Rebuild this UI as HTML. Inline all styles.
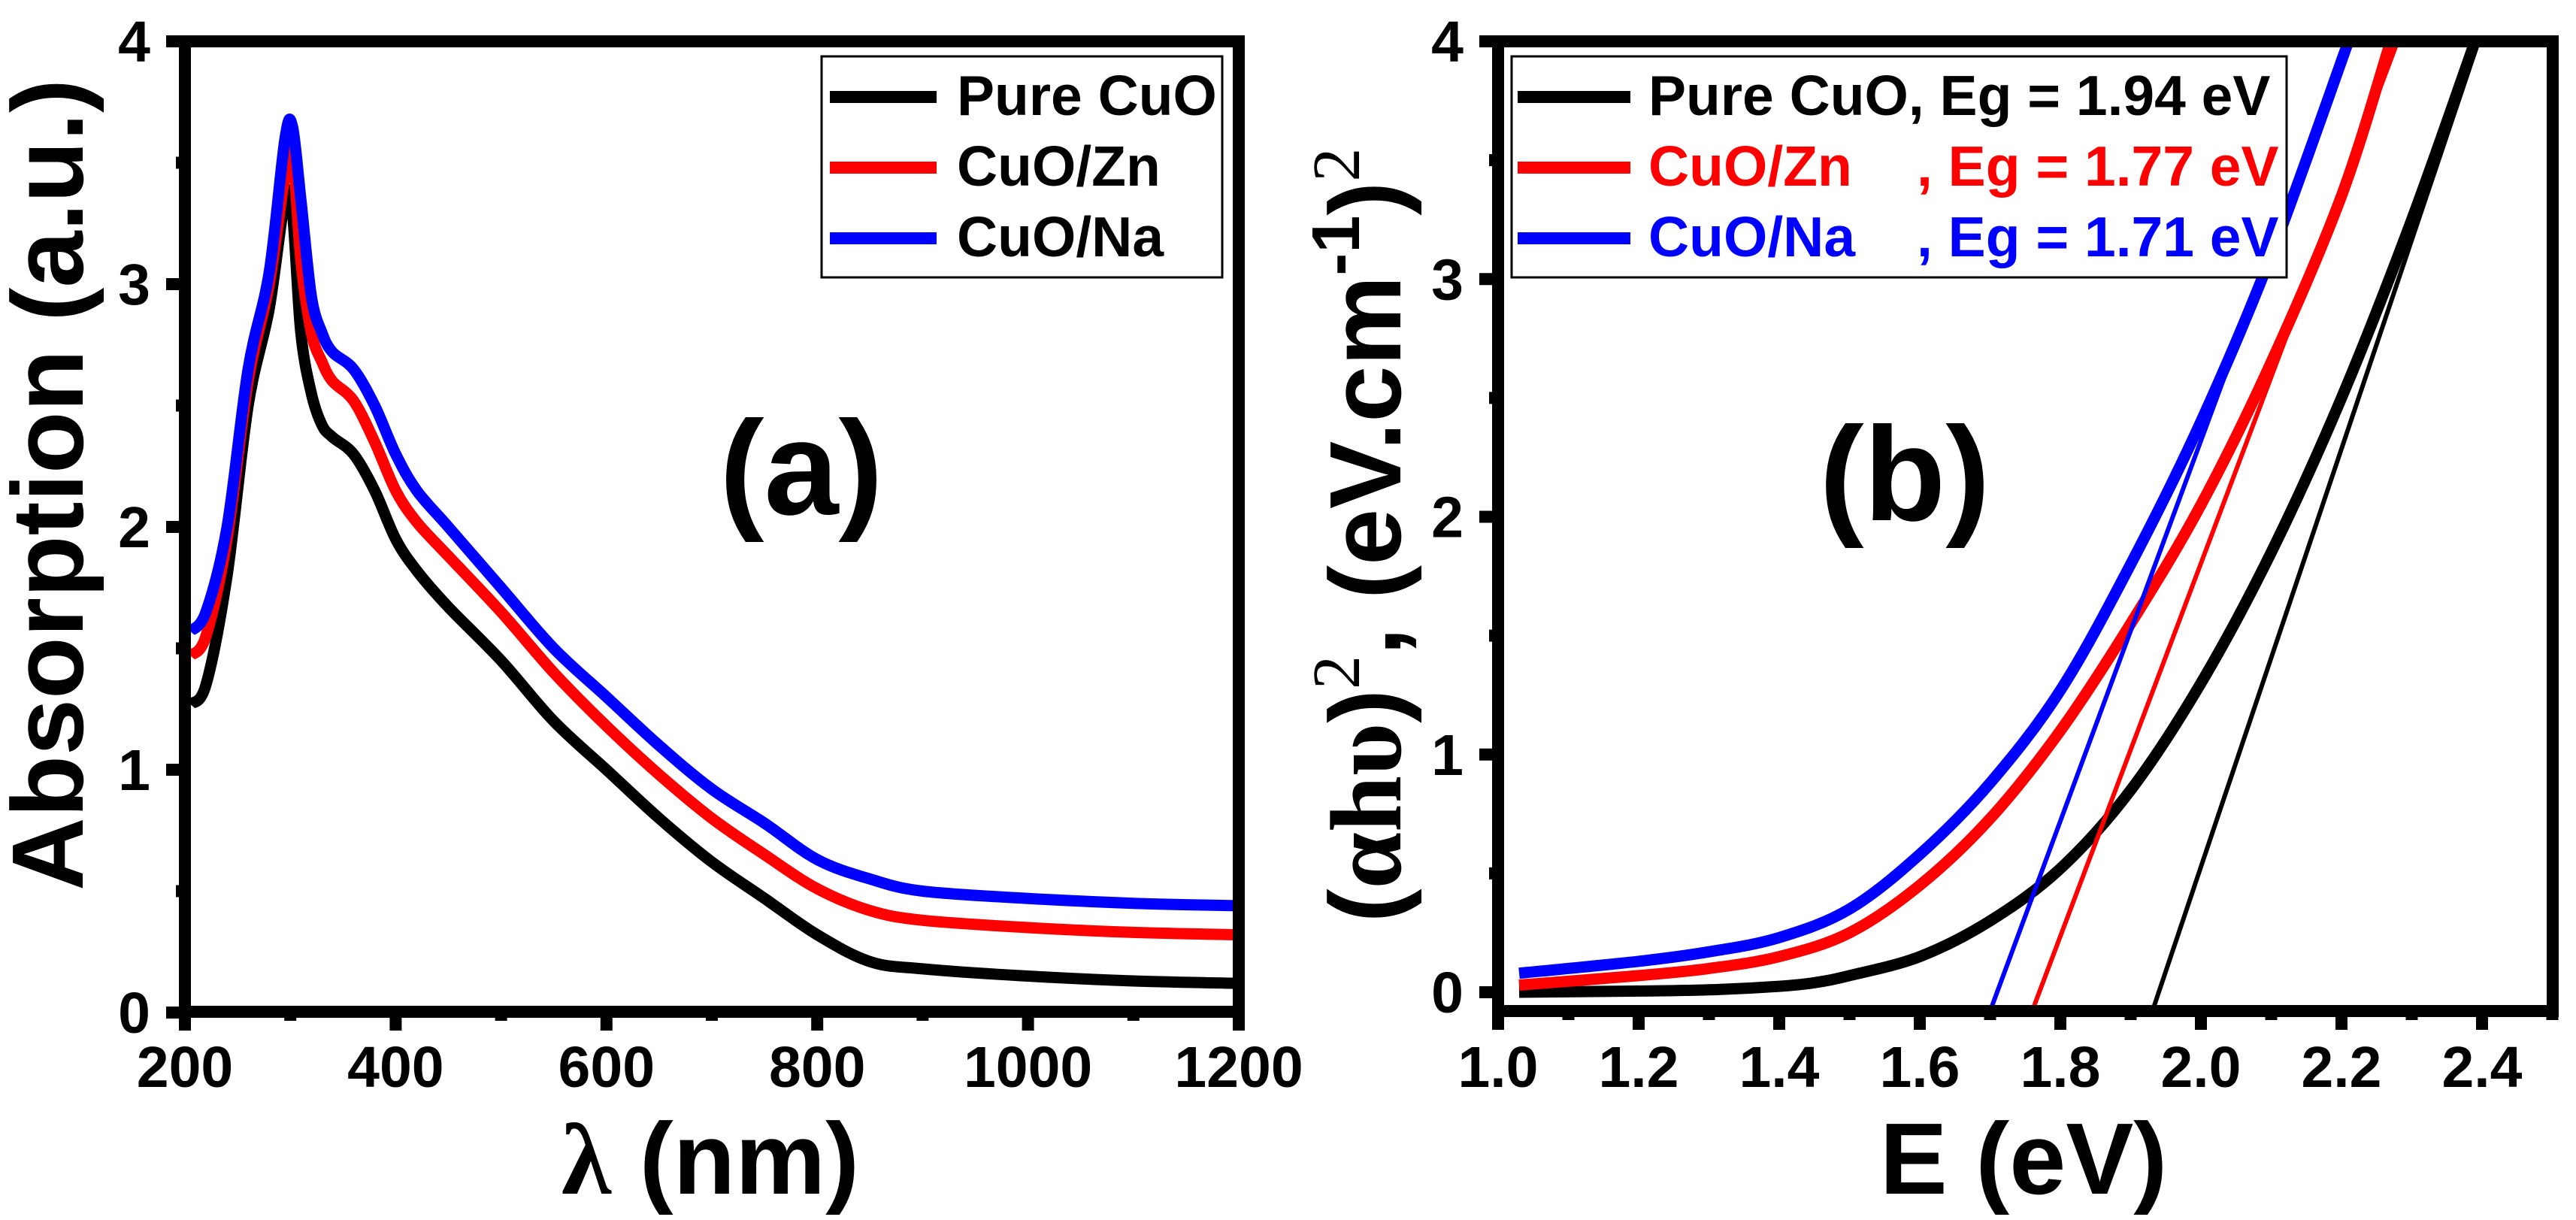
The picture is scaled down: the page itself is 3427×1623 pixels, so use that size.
<!DOCTYPE html>
<html><head><meta charset="utf-8">
<style>
html,body{margin:0;padding:0;background:#fff;}
svg{display:block;}
text{font-family:"Liberation Sans",Arial,sans-serif;font-weight:bold;}
</style></head>
<body>
<svg id="fig" width="3427" height="1623" viewBox="0 0 3427 1623" xmlns="http://www.w3.org/2000/svg">
  <g id="pa"></g>
  <g id="pb"></g>
</svg>
<script>
// ---------- Panel (a) data ----------
const aWave = [205,220,240,260,280,295,302,310,320,330,340,360,380,400,420,450,500,550,600,650,700,750,800,850,900,1000,1100,1200];
const aPure = [1.27,1.35,1.8,2.5,2.9,3.35,3.3,2.8,2.55,2.42,2.37,2.3,2.15,1.95,1.82,1.67,1.45,1.2,1.0,0.8,0.62,0.47,0.32,0.21,0.18,0.15,0.13,0.12];
const aZn   = [1.47,1.55,1.95,2.6,3.0,3.45,3.55,3.1,2.8,2.68,2.6,2.52,2.35,2.15,2.02,1.88,1.65,1.4,1.18,0.98,0.8,0.65,0.51,0.42,0.38,0.35,0.33,0.32];
const aNa   = [1.57,1.65,2.0,2.65,3.05,3.6,3.65,3.35,2.95,2.8,2.72,2.65,2.5,2.3,2.15,2.0,1.75,1.5,1.3,1.1,0.92,0.78,0.63,0.55,0.5,0.47,0.45,0.44];
const aXTicks = [200,400,600,800,1000,1200];
const aYTicks = [0,1,2,3,4];
const aLegend = ["Pure CuO","CuO/Zn","CuO/Na"];

// ---------- Panel (b) data ----------
const bE    = [1.03,1.2,1.3,1.4,1.45,1.5,1.6,1.7,1.8,1.9,2.0,2.1,2.2,2.3,2.39];
const bPure = [0.0,0.005,0.01,0.025,0.04,0.07,0.15,0.3,0.52,0.85,1.3,1.85,2.5,3.25,4.0];
const bEz   = [1.03,1.2,1.3,1.4,1.5,1.6,1.7,1.8,1.9,2.0,2.1,2.2,2.27];
const bZn   = [0.03,0.07,0.1,0.15,0.25,0.45,0.73,1.1,1.55,2.05,2.65,3.35,4.0];
const bEn   = [1.03,1.2,1.3,1.4,1.5,1.6,1.7,1.8,1.9,2.0,2.1,2.21];
const bNa   = [0.08,0.13,0.17,0.23,0.35,0.58,0.88,1.27,1.8,2.4,3.1,4.0];
const bEg   = [1.94,1.77,1.71];
const bTanTop = [2.395,2.28,2.21];
const bXTicks = [1.0,1.2,1.4,1.6,1.8,2.0,2.2,2.4];
const bYTicks = [0,1,2,3,4];
const bLegName = ["Pure CuO","CuO/Zn","CuO/Na"];
const bLegEg = [", Eg = 1.94 eV",", Eg = 1.77 eV",", Eg = 1.71 eV"];

const NS="http://www.w3.org/2000/svg";
function mk(parent,tag,attrs,txt){const e=document.createElementNS(NS,tag);for(const k in attrs)e.setAttribute(k,attrs[k]);if(txt!==undefined)e.textContent=txt;parent.appendChild(e);return e;}
const cols=["#000000","#ff0000","#0000ff"];

function smooth(pts){
  let d='M'+pts[0][0].toFixed(1)+','+pts[0][1].toFixed(1);
  for(let i=0;i<pts.length-1;i++){
    const p0=pts[Math.max(0,i-1)],p1=pts[i],p2=pts[i+1],p3=pts[Math.min(pts.length-1,i+2)];
    const c1=[p1[0]+(p2[0]-p0[0])/6,p1[1]+(p2[1]-p0[1])/6];
    const c2=[p2[0]-(p3[0]-p1[0])/6,p2[1]-(p3[1]-p1[1])/6];
    d+=' C'+c1[0].toFixed(1)+','+c1[1].toFixed(1)+' '+c2[0].toFixed(1)+','+c2[1].toFixed(1)+' '+p2[0].toFixed(1)+','+p2[1].toFixed(1);
  }
  return d;
}

const axA={x0:246,x1:1648,y0:55,y1:1346};
function axx(v){return 246+(v-200)/1000*(1648-246);}
function axy(v){return 1347+v/4*(55-1347);}
const axB={x0:1993,x1:3396,y0:55,y1:1345};
function bxx(v){return 1993+(v-1.0)/0.2*187;}
function bxy(v){return 1320+v/4*(55-1320);}

function frame(g,ax){
  const r=mk(g,'rect',{x:ax.x0,y:ax.y0,width:ax.x1-ax.x0,height:ax.y1-ax.y0,fill:'none',stroke:'#000','stroke-width':16});
  
  
}

// ---------- Panel A ----------
const pa=document.getElementById('pa');
[[aPure,0],[aZn,1],[aNa,2]].forEach(([s,i])=>{
  const d=smooth(aWave.map((w,j)=>[axx(w),axy(s[j])]));
  const p=mk(pa,'path',{d:d,fill:'none',stroke:cols[i],'stroke-width':15,'stroke-linejoin':'round'});
  
  
});
frame(pa,axA);
aXTicks.forEach(v=>{
  const x=axx(v);
  const t=mk(pa,'line',{x1:x,y1:axA.y1,x2:x,y2:axA.y1+25,stroke:'#000','stroke-width':16});
  
  
  const l=mk(pa,'text',{x:x,y:1446,'font-size':77,'text-anchor':'middle'},String(v));
  
  
});
aXTicks.slice(0,-1).forEach(v=>{
  const x=axx(v+100);
  const t=mk(pa,'line',{x1:x,y1:axA.y1,x2:x,y2:axA.y1+12,stroke:'#000','stroke-width':16});
  
  
});
aYTicks.forEach(v=>{
  const y=axy(v);
  const t=mk(pa,'line',{x1:axA.x0,y1:y,x2:axA.x0-25,y2:y,stroke:'#000','stroke-width':16});
  
  
  const l=mk(pa,'text',{x:200,y:y+27,'font-size':77,'text-anchor':'end'},String(v));
  
  
  if(v<4){const m=mk(pa,'line',{x1:axA.x0,y1:axy(v+0.5),x2:axA.x0-12,y2:axy(v+0.5),stroke:'#000','stroke-width':16});
  
  }
});
const lgA=mk(pa,'g',{});


mk(lgA,'rect',{x:1093,y:75,width:533,height:294,fill:'#fff',stroke:'#000','stroke-width':3});
aLegend.forEach((n,i)=>{
  const y=129+i*94;
  const e=mk(lgA,'g',{});
  
  
  mk(e,'line',{x1:1104,y1:y,x2:1246,y2:y,stroke:cols[i],'stroke-width':16});
  mk(e,'text',{x:1273,y:y+24,'font-size':75,fill:'#000'},n);
});
const ta=mk(pa,'text',{x:0,y:0,'font-size':135,'text-anchor':'middle',transform:'translate(110,645) rotate(-90)'},'Absorption (a.u.)');


const xa=mk(pa,'text',{x:945,y:1588,'font-size':135,'text-anchor':'middle'});


mk(xa,'tspan',{'font-family':'Liberation Serif, serif'},'λ');
mk(xa,'tspan',{},' (nm)');
const la=mk(pa,'text',{x:1066,y:684,'font-size':178,'text-anchor':'middle'},'(a)');



// ---------- Panel B ----------
const pb=document.getElementById('pb');
const clip=mk(pb,'clipPath',{id:'cb'});
mk(clip,'rect',{x:1993,y:55,width:1403,height:1290});
const cg=mk(pb,'g',{'clip-path':'url(#cb)'});
[[bE,bPure,0],[bEz,bZn,1],[bEn,bNa,2]].forEach(([xs,s,i])=>{
  const d=smooth(xs.map((w,j)=>[bxx(w),bxy(s[j])]));
  const p=mk(cg,'path',{d:d,fill:'none',stroke:cols[i],'stroke-width':15,'stroke-linejoin':'round'});
  
  
});
bEg.forEach((eg,i)=>{
  const ymin=-0.08;
  const slope=4/(bTanTop[i]-eg);
  const xb=eg+ymin/slope;
  const l=mk(cg,'line',{x1:bxx(xb),y1:bxy(ymin),x2:bxx(bTanTop[i]),y2:bxy(4),stroke:cols[i],'stroke-width':6});
  
  
});
frame(pb,axB);
bXTicks.forEach(v=>{
  const x=bxx(v);
  const t=mk(pb,'line',{x1:x,y1:axB.y1,x2:x,y2:axB.y1+25,stroke:'#000','stroke-width':16});
  
  
  const l=mk(pb,'text',{x:x,y:1446,'font-size':77,'text-anchor':'middle'},v.toFixed(1));
  
  
  const m=mk(pb,'line',{x1:bxx(v+0.1),y1:axB.y1,x2:bxx(v+0.1),y2:axB.y1+12,stroke:'#000','stroke-width':16});
  
  
});
bYTicks.forEach(v=>{
  const y=bxy(v);
  const t=mk(pb,'line',{x1:axB.x0,y1:y,x2:axB.x0-25,y2:y,stroke:'#000','stroke-width':16});
  
  
  const l=mk(pb,'text',{x:1947,y:y+27,'font-size':77,'text-anchor':'end'},String(v));
  
  
  if(v<4){const m=mk(pb,'line',{x1:axB.x0,y1:bxy(v+0.5),x2:axB.x0-12,y2:bxy(v+0.5),stroke:'#000','stroke-width':16});
  
  }
});
const lgB=mk(pb,'g',{});


mk(lgB,'rect',{x:2011,y:75,width:1031,height:294,fill:'#fff',stroke:'#000','stroke-width':3});
bLegName.forEach((n,i)=>{
  const y=129+i*94;
  const e=mk(lgB,'g',{});
  
  
  mk(e,'line',{x1:2019,y1:y,x2:2169,y2:y,stroke:cols[i],'stroke-width':16});
  if(i===0){
    mk(e,'text',{x:2193,y:y+24,'font-size':75,fill:cols[i]},n+bLegEg[i]);
  } else {
    mk(e,'text',{x:2193,y:y+24,'font-size':75,fill:cols[i]},n);
    mk(e,'text',{x:2550,y:y+24,'font-size':75,fill:cols[i]},bLegEg[i]);
  }
});
const tb=mk(pb,'text',{x:0,y:0,'font-size':135,'text-anchor':'middle',transform:'translate(1863,712) rotate(-90)'});


mk(tb,'tspan',{},'(');
mk(tb,'tspan',{'font-family':'Liberation Serif, serif','font-weight':'bold'},'αhυ');
mk(tb,'tspan',{},')');
mk(tb,'tspan',{'font-family':'Liberation Serif, serif','font-weight':'normal','font-size':90,dy:-55},'2');
mk(tb,'tspan',{dy:55},', (eV.cm');
mk(tb,'tspan',{'font-size':90,dy:-55},'-1');
mk(tb,'tspan',{dy:55},')');
mk(tb,'tspan',{'font-family':'Liberation Serif, serif','font-weight':'normal','font-size':90,dy:-55},'2');
const xb=mk(pb,'text',{x:2692,y:1588,'font-size':135,'text-anchor':'middle'},'E (eV)');


const lb=mk(pb,'text',{x:2534,y:692,'font-size':178,'text-anchor':'middle'},'(b)');


</script>
</body></html>
